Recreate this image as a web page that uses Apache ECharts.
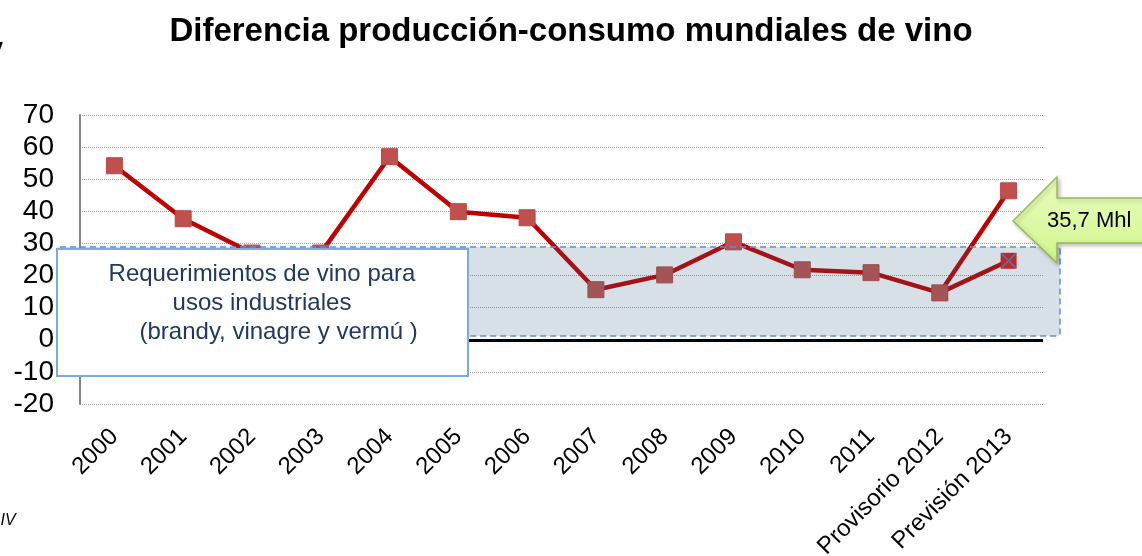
<!DOCTYPE html>
<html>
<head>
<meta charset="utf-8">
<script src="https://cdn.jsdelivr.net/npm/echarts@6/dist/echarts.min.js"></script>
<style>
  html, body { margin: 0; padding: 0; background: #fff; }
  #chart { width: 1142px; height: 556px; }
</style>
</head>
<body>
<div id="chart"></div>
<script>
// datos (Mhl)
const categories = ['2000', '2001', '2002', '2003', '2004', '2005', '2006', '2007', '2008', '2009', '2010', '2011', 'Provisorio 2012', 'Previsión 2013'];
const diferencia = [54.2, 37.7, 27, 27, 57, 39.9, 38, 15.6, 20.2, 30.5, 21.8, 20.9, 14.6, 46.4];
const corregido = [null, null, null, null, null, null, null, null, null, null, null, null, 14.6, 24.6];
const marcaX = [null, null, null, null, null, null, null, null, null, null, null, null, null, 24.6];
const yMin = -20;
const yMax = 70;
const yStep = 10;

const chart = echarts.init(document.getElementById('chart'));

const option = {
  animation: false,
  title: {
    text: 'Diferencia producción-consumo mundiales de vino',
    left: 'center',
    top: 10,
    textStyle: { fontFamily: 'Liberation Sans, Arial', fontSize: 33, fontWeight: 'bold', color: '#000' }
  },
  grid: { left: 80, right: 99, top: 115, bottom: 152, outerBoundsMode: 'none', containLabel: false },
  xAxis: {
    type: 'category',
    data: categories,
    boundaryGap: true,
    axisLine: { show: false, onZero: false },
    axisTick: { show: false },
    axisLabel: {
      rotate: 45,
      interval: 0,
      margin: 29,
      fontFamily: 'Liberation Sans, Arial',
      fontSize: 24,
      color: '#000'
    }
  },
  yAxis: {
    type: 'value',
    min: yMin,
    max: yMax,
    interval: yStep,
    axisLine: { show: true, lineStyle: { color: '#868686', width: 2 } },
    axisTick: { show: false },
    axisLabel: { margin: 26, padding: [5, 0, 0, 0], fontFamily: 'Liberation Sans, Arial', fontSize: 28, color: '#000' },
    splitLine: { lineStyle: { color: '#9a9a9a', type: 'dotted', width: 1 } }
  },
  series: [
    {
      name: 'Diferencia',
      type: 'line',
      data: diferencia,
      z: 4,
      symbol: 'rect',
      symbolSize: 16,
      lineStyle: { color: '#c00000', width: 4.5 },
      itemStyle: { color: '#c0504d', borderColor: '#b84a47', borderWidth: 1 },
      markLine: {
        silent: true,
        symbol: 'none',
        label: { show: false },
        lineStyle: { color: '#000', width: 3, type: 'solid' },
        data: [{ yAxis: 0 }]
      }
    },
    {
      name: 'Corregido',
      type: 'line',
      data: corregido,
      z: 3,
      symbol: 'rect',
      symbolSize: 16,
      lineStyle: { color: '#c00000', width: 4.5 },
      itemStyle: { color: '#e01a1a' }
    },
    {
      name: 'Marca',
      type: 'line',
      data: marcaX,
      z: 5,
      symbol: 'path://M0,0L10,10M10,0L0,10',
      symbolSize: 14,
      lineStyle: { opacity: 0 },
      itemStyle: { color: 'none', borderColor: '#4f81bd', borderWidth: 1.5 }
    }
  ],
  graphic: [
    {
      type: 'rect',
      z: 10,
      shape: { x: 57, y: 247, width: 1003, height: 89, r: 3 },
      style: { fill: 'rgba(50,100,130,0.2)', stroke: '#5b8fdc', lineWidth: 1.5, lineDash: [6, 4] }
    },
    {
      type: 'rect',
      z: 11,
      shape: { x: 57, y: 249, width: 411, height: 127 },
      style: { fill: '#fff', stroke: '#7eaadf', lineWidth: 2 }
    },
    {
      type: 'text',
      z: 12,
      x: 262,
      y: 260,
      style: {
        text: 'Requerimientos de vino para\nusos industriales\n     (brandy, vinagre y vermú )',
        fill: '#1f3864',
        font: '24px Liberation Sans, Arial',
        align: 'center',
        verticalAlign: 'top',
        lineHeight: 29
      }
    },
    {
      type: 'polygon',
      z: 12,
      shape: {
        points: [[1013, 221], [1057, 177], [1057, 198], [1150, 198], [1150, 243], [1057, 243], [1057, 263]]
      },
      style: {
        fill: new echarts.graphic.LinearGradient(0, 0, 0, 1, [
          { offset: 0, color: '#e8fdbd' },
          { offset: 1, color: '#d2f58e' }
        ]),
        stroke: '#9bbb59',
        lineWidth: 1.5,
        shadowBlur: 4,
        shadowColor: 'rgba(0,0,0,0.25)',
        shadowOffsetX: 2,
        shadowOffsetY: 2
      }
    },
    {
      type: 'text',
      z: 13,
      x: 1047,
      y: 221,
      style: { text: '35,7 Mhl', fill: '#000', font: '22px Liberation Sans, Arial', verticalAlign: 'middle' }
    },
    {
      type: 'text',
      z: 13,
      x: -13,
      y: 40,
      style: { text: 'V', fill: '#000', font: 'bold 24px Liberation Sans, Arial' }
    },
    {
      type: 'text',
      z: 13,
      x: -12,
      y: 513,
      style: { text: 'OIV', fill: '#000', font: 'italic 16px Liberation Sans, Arial' }
    }
  ]
};

chart.setOption(option);
</script>
</body>
</html>
